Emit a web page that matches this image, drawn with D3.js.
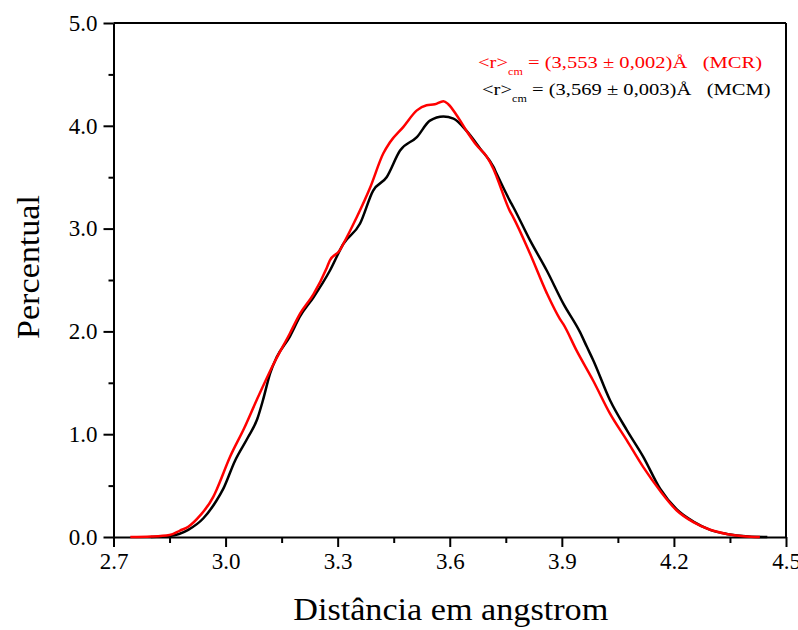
<!DOCTYPE html>
<html>
<head>
<meta charset="utf-8">
<script src="https://cdn.jsdelivr.net/npm/d3@7"></script>
<style>
  body { margin: 0; background: #fff; }
  text { font-family: "Liberation Serif", "DejaVu Serif", serif; }
</style>
</head>
<body>
<svg id="chart"></svg>
<script>
// red curve (MCR)
let mcrX = [2.745, 2.80, 2.85, 2.878, 2.90, 2.932, 2.967, 2.976, 3.012, 3.05, 3.083, 3.128, 3.172,
    3.199, 3.235, 3.271, 3.279, 3.306, 3.315, 3.351, 3.387, 3.422, 3.44, 3.476, 3.512, 3.538, 3.56,
    3.583, 3.596, 3.619, 3.645, 3.672, 3.699, 3.717, 3.726, 3.761, 3.77, 3.815, 3.86, 3.895, 3.904,
    3.94, 3.984, 4.029, 4.074, 4.118, 4.163, 4.207, 4.252, 4.297, 4.341, 4.386, 4.43];
let mcrY = [0, 0.005, 0.02, 0.063, 0.10, 0.21, 0.39, 0.46, 0.78, 1.06, 1.33, 1.68, 1.98,
    2.17, 2.36, 2.62, 2.69, 2.79, 2.85, 3.11, 3.40, 3.73, 3.84, 3.99, 4.15, 4.20, 4.21,
    4.24, 4.21, 4.10, 3.95, 3.81, 3.70, 3.58, 3.50, 3.17, 3.11, 2.755, 2.37, 2.12, 2.07,
    1.81, 1.52, 1.20, 0.94, 0.68, 0.45, 0.26, 0.144, 0.07, 0.03, 0.008, 0];

// black curve (MCM)
let mcmX = [2.80, 2.85, 2.90, 2.94, 2.975, 2.994, 3.025, 3.06, 3.085, 3.10, 3.119, 3.137, 3.172, 3.2,
    3.235, 3.279, 3.315, 3.36, 3.395, 3.431, 3.467, 3.512, 3.547, 3.583, 3.61, 3.645, 3.681, 3.717,
    3.726, 3.761, 3.77, 3.815, 3.86, 3.904, 3.949, 3.967, 3.984, 4.029, 4.074, 4.118, 4.163, 4.207,
    4.252, 4.297, 4.341, 4.40, 4.45];
let mcmY = [0, 0.01, 0.07, 0.18, 0.35, 0.47, 0.74, 0.97, 1.15, 1.33, 1.59, 1.75, 1.95, 2.15,
    2.33, 2.59, 2.85, 3.05, 3.37, 3.50, 3.76, 3.89, 4.05, 4.09, 4.07, 3.95, 3.78, 3.60,
    3.53, 3.27, 3.21, 2.885, 2.59, 2.27, 1.99, 1.85, 1.72, 1.33, 1.04, 0.78, 0.47, 0.27,
    0.15, 0.07, 0.03, 0.005, 0];

let xTicks = [2.7, 3.0, 3.3, 3.6, 3.9, 4.2, 4.5];
let xMinor = [2.85, 3.15, 3.45, 3.75, 4.05, 4.35];
let yTicks = [0, 1, 2, 3, 4, 5];
let yMinor = [0.5, 1.5, 2.5, 3.5, 4.5];

let W = 798, H = 630;
let margin = {top: 23, right: 12, bottom: 93, left: 113.5},
    width = W - margin.left - margin.right,
    height = H - margin.top - margin.bottom;

let svg = d3.select("#chart")
    .attr("width", W)
    .attr("height", H)
    .append("g")
    .attr("transform", "translate(" + margin.left + "," + margin.top + ")");

let x = d3.scaleLinear().domain([2.7, 4.5]).range([0, width]);
let y = d3.scaleLinear().domain([0, 5]).range([height, 0]);

// minor ticks first, then major axis over them
svg.append("g")
    .attr("transform", "translate(0," + height + ")")
    .call(d3.axisBottom(x).tickValues(xMinor).tickSize(6).tickFormat(""))
    .call(g => g.select(".domain").remove())
    .selectAll("line").attr("stroke-width", 2);
svg.append("g")
    .call(d3.axisLeft(y).tickValues(yMinor).tickSize(5).tickFormat(""))
    .call(g => g.select(".domain").remove())
    .selectAll("line").attr("stroke-width", 2);

let xAxis = svg.append("g")
    .attr("transform", "translate(0," + height + ")")
    .call(d3.axisBottom(x).tickValues(xTicks).tickSize(10).tickSizeOuter(0).tickPadding(6)
        .tickFormat(d3.format(".1f")));
xAxis.selectAll("text").style("font-size", "23px").attr("fill", "#000");

let yAxis = svg.append("g")
    .call(d3.axisLeft(y).tickValues(yTicks).tickSize(10).tickSizeOuter(0).tickPadding(6)
        .tickFormat(d3.format(".1f")));
yAxis.selectAll("text").style("font-size", "23px").attr("fill", "#000");

svg.selectAll(".domain, .tick line").attr("stroke", "#000").attr("stroke-width", 2);

// frame top/right
svg.append("line").attr("x1", 0).attr("x2", width).attr("y1", 0).attr("y2", 0)
    .attr("stroke", "#000").attr("stroke-width", 2);
svg.append("line").attr("x1", width).attr("x2", width).attr("y1", 0).attr("y2", height)
    .attr("stroke", "#000").attr("stroke-width", 2);

let line = d3.line()
    .x(d => x(d[0]))
    .y(d => y(d[1]))
    .curve(d3.curveMonotoneX);

svg.append("path")
    .datum(d3.zip(mcmX, mcmY))
    .attr("d", line)
    .attr("fill", "none")
    .attr("stroke", "#000")
    .attr("stroke-width", 2.5);

svg.append("path")
    .datum(d3.zip(mcrX, mcrY))
    .attr("d", line)
    .attr("fill", "none")
    .attr("stroke", "#ff0000")
    .attr("stroke-width", 2.5);

// legend (glyphs are wide in the original, so stretch horizontally)
function legendLine(xPos, yPos, color, value, tag) {
    let t = svg.append("g")
        .attr("transform", "translate(" + xPos + "," + yPos + ") scale(1.21,1)")
        .append("text")
        .attr("fill", color)
        .style("font-size", "17px")
        .style("white-space", "pre");
    t.append("tspan").text("<r>");
    t.append("tspan").attr("dy", 7).style("font-size", "10px").text("cm");
    t.append("tspan").attr("dy", -7).text(" = (" + value + ")Å   (" + tag + ")");
}
legendLine(478 - margin.left, 68 - margin.top, "#ff0000", "3,553 ± 0,002", "MCR");
legendLine(482 - margin.left, 95 - margin.top, "#000", "3,569 ± 0,003", "MCM");

// axis titles
svg.append("text")
    .attr("transform", "rotate(-90)")
    .attr("x", -height / 2 + 13)
    .attr("y", -75)
    .attr("text-anchor", "middle")
    .attr("textLength", 144)
    .attr("lengthAdjust", "spacingAndGlyphs")
    .style("font-size", "31px")
    .text("Percentual");

svg.append("text")
    .attr("x", width / 2 + 1)
    .attr("y", height + 83)
    .attr("text-anchor", "middle")
    .attr("textLength", 315)
    .attr("lengthAdjust", "spacingAndGlyphs")
    .style("font-size", "31px")
    .text("Distância em angstrom");
</script>
</body>
</html>
